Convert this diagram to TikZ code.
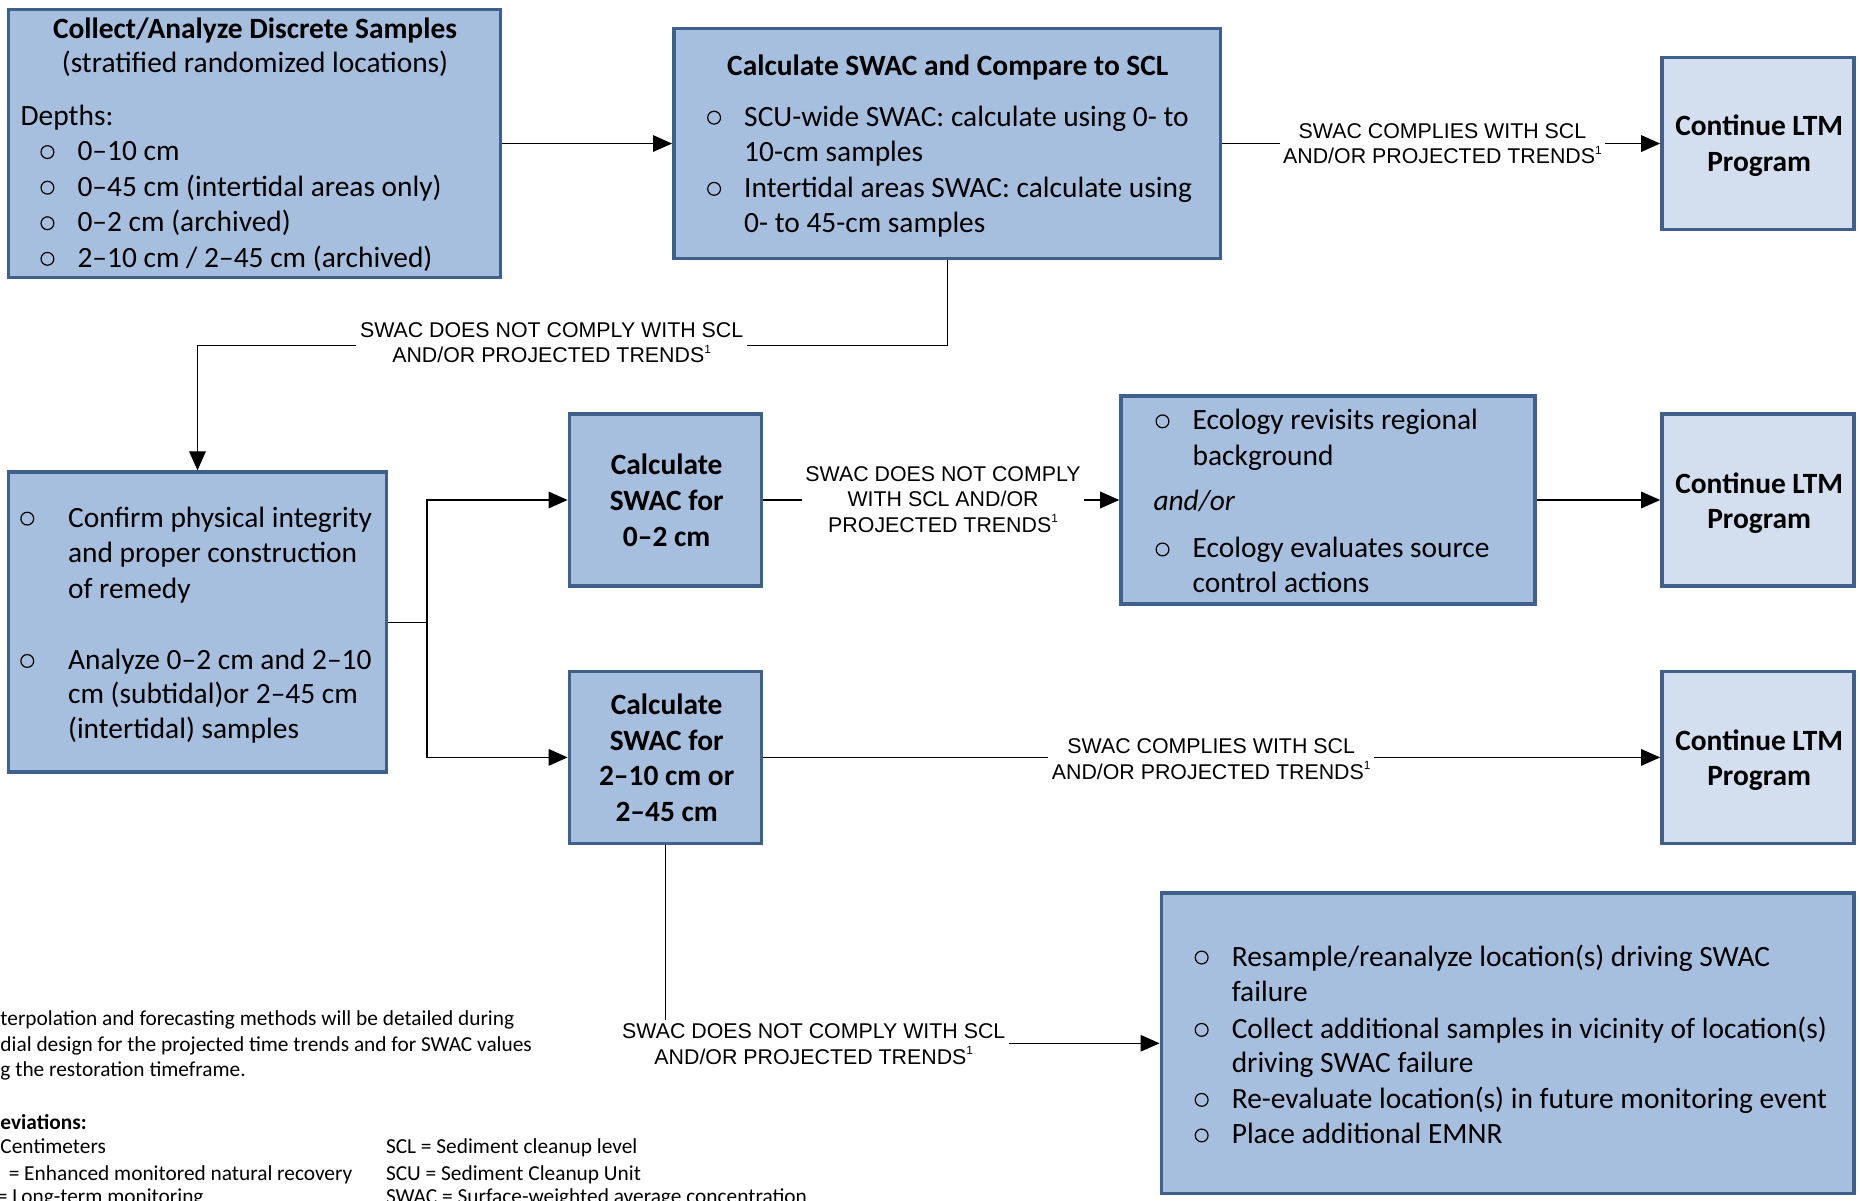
\documentclass[tikz,border=0pt]{standalone}
\usepackage{fontspec}
\setmainfont{Carlito}
\newfontfamily\arialf{Liberation Sans}
\usetikzlibrary{arrows.meta}
\definecolor{boxfill}{RGB}{167,191,222}
\definecolor{boxline}{RGB}{64,96,140}
\definecolor{ltmfill}{RGB}{211,223,238}
\newcommand\supone{\raisebox{0.85ex}{\fontsize{5}{5}\selectfont 1}}
\begin{document}
\begin{tikzpicture}[x=0.5pt,y=-0.5pt,
 box/.style={draw=boxline, line width=1.5pt, fill=boxfill, inner sep=0pt},
 ltm/.style={box, fill=ltmfill},
 tx/.style={font=\fontsize{12.4}{15}\selectfont, inner sep=0pt, anchor=mid west, yshift=-1.8pt},
 txc/.style={tx, anchor=mid},
 hd/.style={txc, font=\fontsize{12.4}{15}\selectfont\bfseries},
 bu/.style={circle, draw=black, line width=0.5pt, minimum size=5.4pt, inner sep=0pt, yshift=-0.6pt},
 lab/.style={font=\fontsize{9}{10.8}\selectfont\arialf, fill=white, align=center, inner sep=1.5pt},
 conn/.style={draw=black, line width=0.5pt},
 arr/.style={conn, -{Triangle[length=8pt,width=7pt]}},
 fn/.style={font=\fontsize{9}{10.8}\selectfont, inner sep=0pt, anchor=mid west, yshift=-1pt}
]
\useasboundingbox (0,0) rectangle (1568,1012);
\clip (0,0) rectangle (1568,1012);

% boxes
\node[box, minimum width=207.5pt, minimum height=113pt] (b1) at (214.5,121) {};
\node[box, minimum width=230.5pt, minimum height=97pt] (b2) at (798.5,121) {};
\node[ltm, minimum width=81pt, minimum height=72.5pt] (b3) at (1482,121) {};
\node[box, minimum width=159.5pt, minimum height=126.5pt] (b4) at (166.5,524.5) {};
\node[box, minimum width=81pt, minimum height=72.5pt] (b5) at (561,421.5) {};
\node[box, minimum width=81pt, minimum height=72.5pt] (b6) at (561,638.5) {};
\node[box, minimum width=174.5pt, minimum height=87.5pt] (b7) at (1119.5,421.5) {};
\node[ltm, minimum width=81pt, minimum height=72.5pt] (b8) at (1482,421.5) {};
\node[ltm, minimum width=81pt, minimum height=72.5pt] (b9) at (1482,638.5) {};
\node[box, minimum width=292pt, minimum height=126.5pt] (b10) at (1271,879.5) {};

% connectors
\draw[arr] (b1.east) -- (b2.west);
\draw[arr] (b2.east) -- (b3.west);
\draw[arr] (b2.south) -- ++(0,72) -| (b4.north);
\coordinate (j) at (360,524.5);
\draw[conn] (b4.east) -- (j);
\draw[arr] (j) |- (b5.west);
\draw[arr] (j) |- (b6.west);
\draw[arr] (b5.east) -- (b7.west);
\draw[arr] (b7.east) -- (b8.west);
\draw[arr] (b6.east) -- (b9.west);
\draw[arr] (b6.south) |- (b10.west);

% connector labels
\node[lab] (l1) at (1216,121) {SWAC COMPLIES WITH SCL\\AND/OR PROJECTED TRENDS\supone};
\node[lab] (l2) at (465,289) {SWAC DOES NOT COMPLY WITH SCL\\AND/OR PROJECTED TRENDS\supone};
\node[lab] (l3) at (795,421) {SWAC DOES NOT COMPLY\\WITH SCL AND/OR\\PROJECTED TRENDS\supone};
\node[lab] (l4) at (1021,640) {SWAC COMPLIES WITH SCL\\AND/OR PROJECTED TRENDS\supone};
\node[lab] (l5) at (686,880) {SWAC DOES NOT COMPLY WITH SCL\\AND/OR PROJECTED TRENDS\supone};

% box 1
\node[hd] (t1a) at (215,24) {Collect/Analyze Discrete Samples};
\node[txc] (t1b) at (215,53) {(stratified randomized locations)};
\node[tx] (t1c) at (17,97) {Depths:};
\node[bu] (u1a) at (40,127) {};
\node[bu] (u1b) at (40,157) {};
\node[bu] (u1c) at (40,187) {};
\node[bu] (u1d) at (40,217) {};
\node[tx] (t1d) at (65,127) {0--10 cm};
\node[tx] (t1e) at (65,157) {0--45 cm (intertidal areas only)};
\node[tx] (t1f) at (65,187) {0--2 cm (archived)};
\node[tx] (t1g) at (65,217) {2--10 cm / 2--45 cm (archived)};

% box 2
\node[hd] (t2a) at (799,55) {Calculate SWAC and Compare to SCL};
\node[bu] (u2a) at (602,98) {};
\node[bu] (u2b) at (602,158) {};
\node[tx] (t2b) at (627,98) {SCU-wide SWAC: calculate using 0- to};
\node[tx] (t2c) at (627,128) {10-cm samples};
\node[tx] (t2d) at (627,158) {Intertidal areas SWAC: calculate using};
\node[tx] (t2e) at (627,188) {0- to 45-cm samples};

% box 3
\node[hd] (t3a) at (1483,106) {Continue LTM};
\node[hd] (t3b) at (1483,136) {Program};

% box 4
\node[bu] (u4a) at (23,436) {};
\node[bu] (u4b) at (23,556) {};
\node[tx] (t4a) at (57,436) {Confirm physical integrity};
\node[tx] (t4b) at (57,466) {and proper construction};
\node[tx] (t4c) at (57,496) {of remedy};
\node[tx] (t4d) at (57,556) {Analyze 0--2 cm and 2--10};
\node[tx] (t4e) at (57,585) {cm (subtidal)or 2--45 cm};
\node[tx] (t4f) at (57,614) {(intertidal) samples};

% box 5
\node[hd] (t5a) at (562,392) {Calculate};
\node[hd] (t5b) at (562,422) {SWAC for};
\node[hd] (t5c) at (562,452) {0--2 cm};

% box 6
\node[hd] (t6a) at (562,594) {Calculate};
\node[hd] (t6b) at (562,624) {SWAC for};
\node[hd] (t6c) at (562,654) {2--10 cm or};
\node[hd] (t6d) at (562,684) {2--45 cm};

% box 7
\node[bu] (u7a) at (980,354) {};
\node[bu] (u7b) at (980,462) {};
\node[tx] (t7a) at (1005,354) {Ecology revisits regional};
\node[tx] (t7b) at (1005,384) {background};
\node[tx, font=\fontsize{12.4}{15}\selectfont\itshape] (t7c) at (972,422) {and/or};
\node[tx] (t7d) at (1005,462) {Ecology evaluates source};
\node[tx] (t7e) at (1005,491) {control actions};

% box 8, 9
\node[hd] (t8a) at (1483,408) {Continue LTM};
\node[hd] (t8b) at (1483,437) {Program};
\node[hd] (t9a) at (1483,624) {Continue LTM};
\node[hd] (t9b) at (1483,654) {Program};

% box 10
\node[bu] (u10a) at (1013,806) {};
\node[bu] (u10b) at (1013,867) {};
\node[bu] (u10c) at (1013,926) {};
\node[bu] (u10d) at (1013,956) {};
\node[tx] (t10a) at (1038,806) {Resample/reanalyze location(s) driving SWAC};
\node[tx] (t10b) at (1038,836) {failure};
\node[tx] (t10c) at (1038,867) {Collect additional samples in vicinity of location(s)};
\node[tx] (t10d) at (1038,896) {driving SWAC failure};
\node[tx] (t10e) at (1038,926) {Re-evaluate location(s) in future monitoring event};
\node[tx] (t10f) at (1038,956) {Place additional EMNR};

% footnotes
\node[fn] (f1) at (0,858) {terpolation and forecasting methods will be detailed during};
\node[fn] (f2) at (0,880) {dial design for the projected time trends and for SWAC values};
\node[fn] (f3) at (0,901) {g the restoration timeframe.};
\node[fn, font=\fontsize{9}{10.8}\selectfont\bfseries] (f4) at (0,945) {eviations:};
\node[fn] (f5) at (0,966) {Centimeters};
\node[fn] (f6) at (7,988) {= Enhanced monitored natural recovery};
\node[fn] (f7) at (-3,1008) {= Long-term monitoring};
\node[fn] (f8) at (325,966) {SCL = Sediment cleanup level};
\node[fn] (f9) at (325,988) {SCU = Sediment Cleanup Unit};
\node[fn] (f10) at (325,1008) {SWAC = Surface-weighted average concentration};
\end{tikzpicture}
\end{document}
